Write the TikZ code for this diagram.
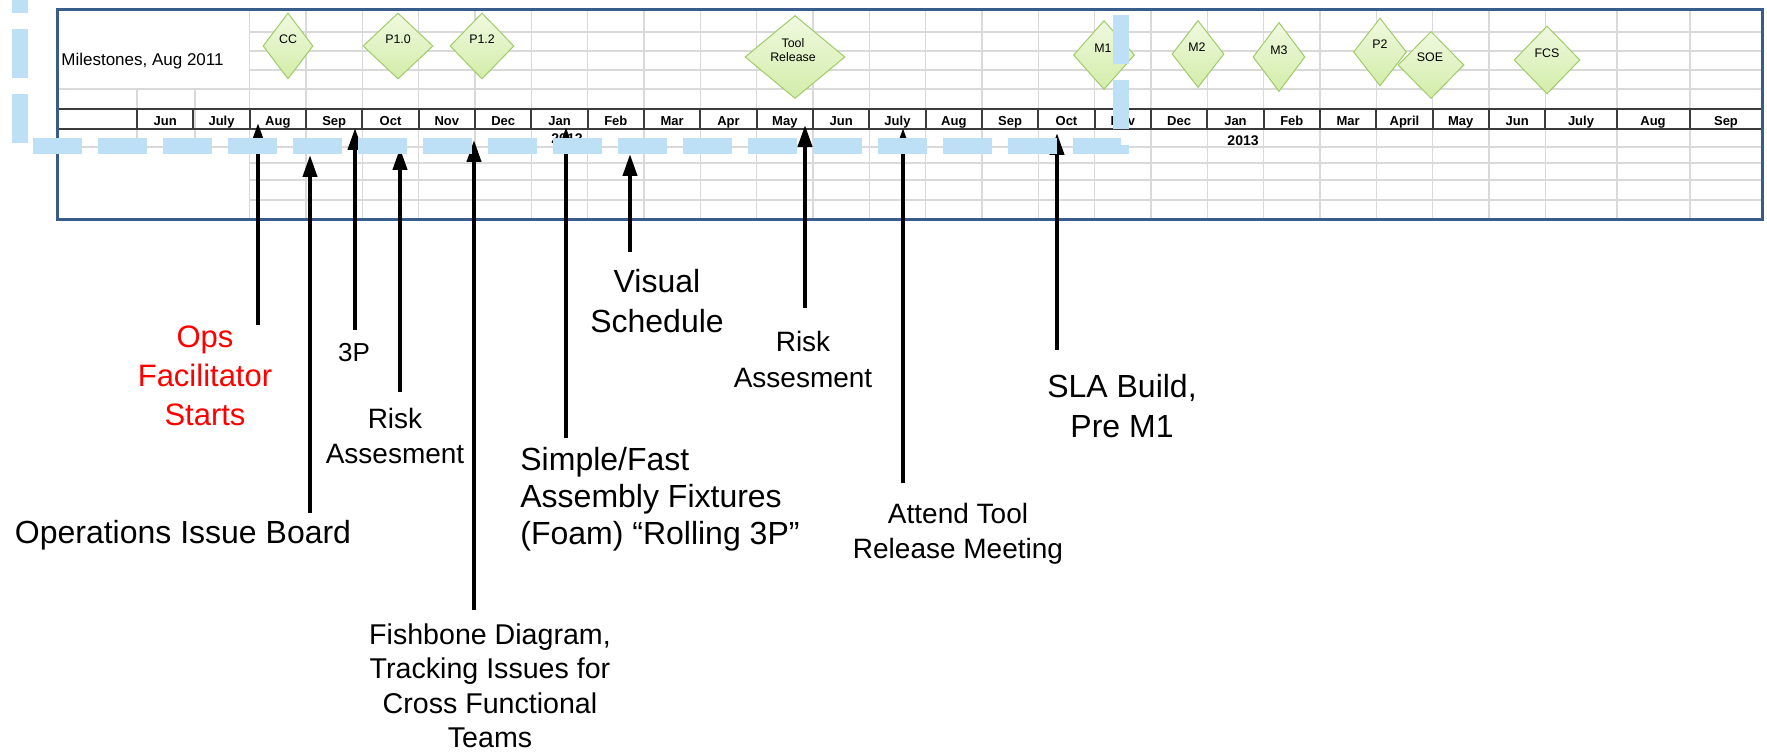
\documentclass[tikz,border=0pt]{standalone}
\usepackage{fontspec}
\setmainfont{Liberation Sans}
\usetikzlibrary{arrows.meta,shapes.geometric}
\definecolor{framecol}{RGB}{56,93,138}
\definecolor{gridcol}{RGB}{217,217,217}
\definecolor{headcol}{RGB}{60,60,60}
\definecolor{dashcol}{RGB}{189,224,247}
\definecolor{mstop}{RGB}{240,249,224}
\definecolor{msbot}{RGB}{210,237,168}
\definecolor{msline}{RGB}{160,203,105}

\begin{document}
\begin{tikzpicture}[x=0.5pt,y=-0.5pt,
  gridline/.style={draw=gridcol,line width=0.75pt},
  headline/.style={draw=headcol,line width=1pt},
  milestone/.style={diamond,draw=msline,line width=0.5pt,top color=mstop,bottom color=msbot,inner sep=0pt},
  mslabel/.style={font=\fontsize{6.2}{7}\selectfont,inner sep=0pt,align=center},
  monthlbl/.style={font=\fontsize{6.5}{7}\selectfont\bfseries,inner sep=0pt,anchor=base},
  yearlbl/.style={font=\fontsize{7}{8}\selectfont\bfseries,inner sep=0pt,anchor=base east},
  eventtext/.style={inner sep=0pt,align=center,anchor=north},
  evarrow/.style={line width=2pt,-{Triangle[length=11pt,width=7pt]}}]
\useasboundingbox (0,0) rectangle (1767,753);
\fill[white] (0,0) rectangle (1767,753);

\foreach \i in {2,...,25} \draw[gridline] ({137+56.33*\i},10) -- ({137+56.33*\i},220);
\draw[gridline] (1617,10) -- (1617,220);
\draw[gridline] (1690,10) -- (1690,220);
\foreach \x in {137,195} \draw[gridline] (\x,89) -- (\x,147);
\foreach \y in {32,51,70,163,180,200} \draw[gridline] (250,\y) -- (1762,\y);
\foreach \y in {89,147} \draw[gridline] (57,\y) -- (1762,\y);

\draw[headline] (57,109) -- (1762,109);
\draw[headline] (57,129) -- (1762,129);
\foreach \i in {0,...,25} \draw[headline] ({137+56.33*\i},109) -- ({137+56.33*\i},129);
\draw[headline] (1617,109) -- (1617,129);
\draw[headline] (1690,109) -- (1690,129);
\draw[framecol,line width=1.5pt] (57,10) rectangle (1762,220);

\foreach \m [count=\i from 0] in {Jun,July,Aug,Sep,Oct,Nov,Dec,Jan,Feb,Mar,Apr,May,Jun,July,Aug,Sep,Oct,Nov,Dec,Jan,Feb,Mar,April,May,Jun}
  \node[monthlbl] (mon\i) at ({165.2+56.33*\i},126) {\m};
\node[monthlbl] (mon25) at (1581,126) {July};
\node[monthlbl] (mon26) at (1653,126) {Aug};
\node[monthlbl] (mon27) at (1726,126) {Sep};
\node[yearlbl] (yr12) at (583,144) {2012};
\node[yearlbl] (yr13) at (1259,146) {2013};

\node[anchor=base west,inner sep=0pt,font=\fontsize{8.5}{10}\selectfont] (title) at (61,66) {Milestones, Aug 2011};

\node[milestone,minimum width=25pt,minimum height=33pt] (cc) at (288,46) {};
\node[mslabel] (cctxt) at (288,39) {CC};
\node[milestone,minimum width=35pt,minimum height=33pt] (p10) at (398,46) {};
\node[mslabel] (p10txt) at (398,39) {P1.0};
\node[milestone,minimum width=32pt,minimum height=33pt] (p12) at (482,46) {};
\node[mslabel] (p12txt) at (482,39) {P1.2};
\node[milestone,minimum width=50pt,minimum height=41.5pt] (tool) at (795,57) {};
\node[mslabel] (tooltxt) at (793,50) {Tool\\Release};
\node[milestone,minimum width=30.5pt,minimum height=34.5pt] (m1) at (1104,55) {};
\node[mslabel] (m1txt) at (1103,48) {M1};
\node[milestone,minimum width=26pt,minimum height=33.5pt] (m2) at (1198,54) {};
\node[mslabel] (m2txt) at (1197,47) {M2};
\node[milestone,minimum width=26pt,minimum height=34.5pt] (m3) at (1279,57) {};
\node[mslabel] (m3txt) at (1279,50) {M3};
\node[milestone,minimum width=26.5pt,minimum height=34pt] (p2) at (1380,52) {};
\node[mslabel] (p2txt) at (1380,44) {P2};
\node[milestone,minimum width=33pt,minimum height=33.5pt] (soe) at (1431,65) {};
\node[mslabel] (soetxt) at (1430,57) {SOE};
\node[milestone,minimum width=33pt,minimum height=34pt] (fcs) at (1547,60) {};
\node[mslabel] (fcstxt) at (1547,53) {FCS};

\node[eventtext,text=red,font=\fontsize{15.5}{19.5}\selectfont] (ops) at (205,325) {Ops\\Facilitator\\Starts};
\node[anchor=base,inner sep=0pt,font=\fontsize{16}{19}\selectfont] (board) at (183,544) {Operations Issue Board};
\node[anchor=base,inner sep=0pt,font=\fontsize{13}{16}\selectfont] (threep) at (354,362) {3P};
\node[eventtext,font=\fontsize{14}{17.5}\selectfont] (riska) at (395,408) {Risk\\Assesment};
\node[eventtext,font=\fontsize{14.3}{17.3}\selectfont] (fish) at (490,623) {Fishbone Diagram,\\Tracking Issues for\\Cross Functional\\Teams};
\node[eventtext,anchor=north west,align=left,font=\fontsize{16}{18.5}\selectfont] (fixt) at (520,447) {Simple/Fast\\Assembly Fixtures\\(Foam) “Rolling 3P”};
\node[eventtext,font=\fontsize{16}{20}\selectfont] (visual) at (657,269) {Visual\\Schedule};
\node[eventtext,font=\fontsize{14}{18}\selectfont] (riskb) at (803,331) {Risk\\Assesment};
\node[eventtext,font=\fontsize{14}{17.5}\selectfont] (attend) at (958,503) {Attend Tool\\Release Meeting};
\node[eventtext,font=\fontsize{16}{20}\selectfont] (sla) at (1122,374) {SLA Build,\\Pre M1};

\coordinate (opsA) at (258,325);   \coordinate (opsB) at (258,123);
\coordinate (boardA) at (310,513); \coordinate (boardB) at (310,155);
\coordinate (threepA) at (355,330);\coordinate (threepB) at (355,128);
\coordinate (riskaA) at (400,392); \coordinate (riskaB) at (400,148);
\coordinate (fishA) at (474,610);  \coordinate (fishB) at (474,140);
\coordinate (fixtA) at (566,438);  \coordinate (fixtB) at (566,127);
\coordinate (visualA) at (630,252);\coordinate (visualB) at (630,154);
\coordinate (riskbA) at (805,308); \coordinate (riskbB) at (805,125);
\coordinate (attendA) at (903,483);\coordinate (attendB) at (903,128);
\coordinate (slaA) at (1057,350);  \coordinate (slaB) at (1057,133);
\draw[evarrow] (opsA) -- (opsB);
\draw[evarrow] (boardA) -- (boardB);
\draw[evarrow] (threepA) -- (threepB);
\draw[evarrow] (riskaA) -- (riskaB);
\draw[evarrow] (fishA) -- (fishB);
\draw[evarrow] (fixtA) -- (fixtB);
\draw[evarrow] (visualA) -- (visualB);
\draw[evarrow] (riskbA) -- (riskbB);
\draw[evarrow] (attendA) -- (attendB);
\draw[evarrow] (slaA) -- (slaB);

\draw[dashcol,line width=8pt,dash pattern=on 24.5pt off 8pt] (19.5,-36) -- (19.5,146) -- (1121,146) -- (1121,-60);
\end{tikzpicture}
\end{document}
